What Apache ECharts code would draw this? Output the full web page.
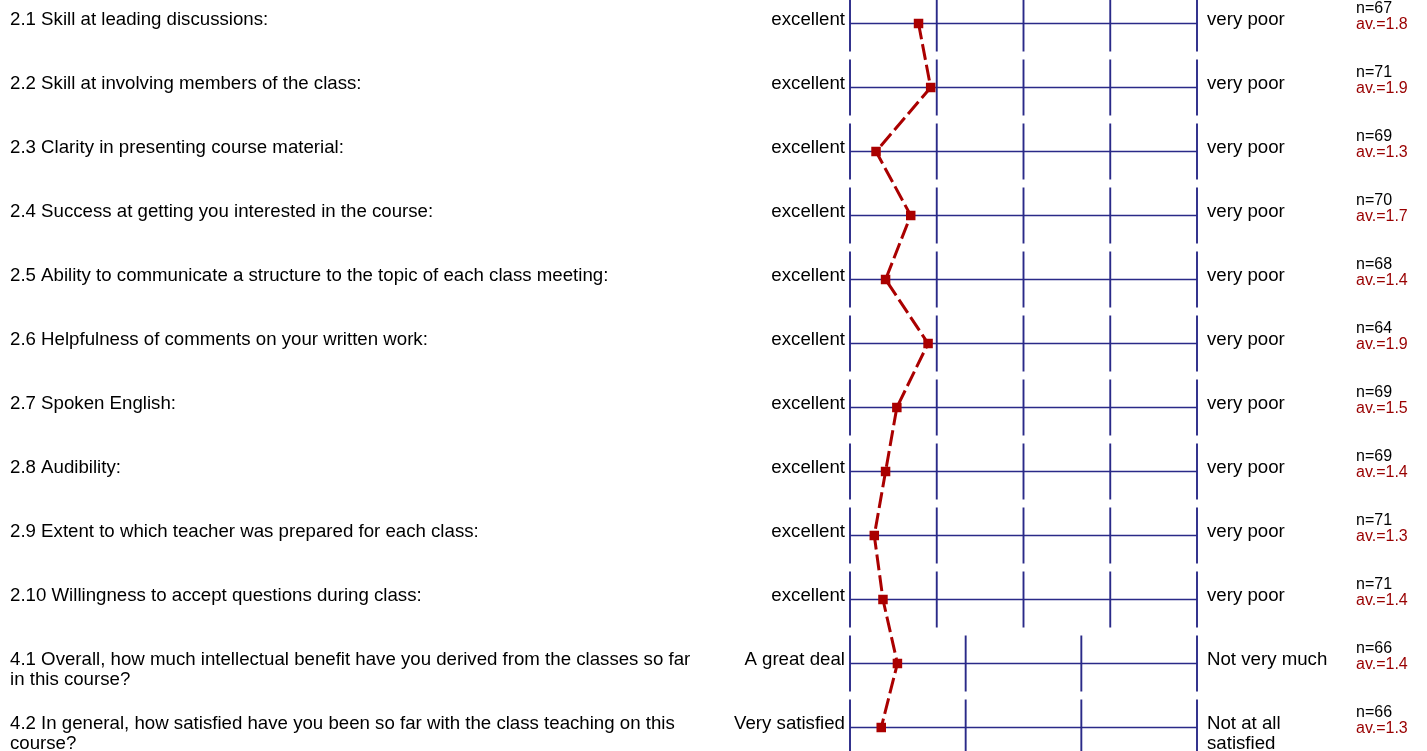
<!DOCTYPE html>
<html>
<head>
<meta charset="utf-8">
<script src="https://cdn.jsdelivr.net/npm/echarts@6/dist/echarts.min.js"></script>
<style>
html,body{margin:0;padding:0;background:#fff;}
#chart{width:1427px;height:751px;}
</style>
</head>
<body>
<div id="chart"></div>
<script>
// ---- data ----
var questions = [
  "2.1 Skill at leading discussions:",
  "2.2 Skill at involving members of the class:",
  "2.3 Clarity in presenting course material:",
  "2.4 Success at getting you interested in the course:",
  "2.5 Ability to communicate a structure to the topic of each class meeting:",
  "2.6 Helpfulness of comments on your written work:",
  "2.7 Spoken English:",
  "2.8 Audibility:",
  "2.9 Extent to which teacher was prepared for each class:",
  "2.10 Willingness to accept questions during class:",
  "4.1 Overall, how much intellectual benefit have you derived from the classes so far\nin this course?",
  "4.2 In general, how satisfied have you been so far with the class teaching on this\ncourse?"
];
var leftAnchors = ["excellent","excellent","excellent","excellent","excellent","excellent","excellent","excellent","excellent","excellent","A great deal","Very satisfied"];
var rightAnchors = ["very poor","very poor","very poor","very poor","very poor","very poor","very poor","very poor","very poor","very poor","Not very much","Not at all\nsatisfied"];
var scalePoints = [5,5,5,5,5,5,5,5,5,5,4,4];
var nValues = [67,71,69,70,68,64,69,69,71,71,66,66];
var avLabels = ["1.8","1.9","1.3","1.7","1.4","1.9","1.5","1.4","1.3","1.4","1.4","1.3"];
var means = [1.79,1.93,1.30,1.70,1.41,1.90,1.54,1.41,1.28,1.38,1.41,1.27];

// ---- chart ----
var FONT = '"Liberation Sans", Arial, Helvetica, sans-serif';
var NAVY = '#2a2a88';
var RED = '#aa0000';
var chart = echarts.init(document.getElementById('chart'), null, {renderer:'canvas'});

var rowData = questions.map(function(q, i){ return [0, i]; });
var lineData = means.map(function(m, i){ return [(m - 1) / (scalePoints[i] - 1), i]; });

function renderRow(params, api) {
  var i = api.value(1);
  var p0 = api.coord([0, i]);
  var p1 = api.coord([1, i]);
  var c = p0[1];
  var children = [];
  children.push({type:'line', shape:{x1:p0[0], y1:c, x2:p1[0], y2:c},
    style:{stroke:NAVY, lineWidth:1.7}});
  var pts = scalePoints[i];
  for (var k = 0; k < pts; k++) {
    var x = api.coord([k / (pts - 1), i])[0];
    children.push({type:'line', shape:{x1:x, y1:c - 28, x2:x, y2:c + 28},
      style:{stroke:NAVY, lineWidth:1.9}});
  }
  var bigTop = c - 13.5;
  var LH = 19.6;
  children.push({type:'text', style:{text:questions[i], x:10, y:bigTop,
    font:'18.67px ' + FONT, fill:'#000', align:'left', verticalAlign:'top', lineHeight:LH}});
  children.push({type:'text', style:{text:leftAnchors[i], x:p0[0] - 5, y:bigTop,
    font:'18.67px ' + FONT, fill:'#000', align:'right', verticalAlign:'top', lineHeight:LH}});
  children.push({type:'text', style:{text:rightAnchors[i], x:p1[0] + 10, y:bigTop,
    font:'18.67px ' + FONT, fill:'#000', align:'left', verticalAlign:'top', lineHeight:LH}});
  children.push({type:'text', style:{text:'n=' + nValues[i], x:p1[0] + 159, y:c - 14.5,
    font:'16px ' + FONT, fill:'#000', align:'left', verticalAlign:'middle'}});
  children.push({type:'text', style:{text:'av.=' + avLabels[i], x:p1[0] + 159, y:c + 1,
    font:'16px ' + FONT, fill:'#990000', align:'left', verticalAlign:'middle'}});
  return {type:'group', children:children};
}

var yMin = -23.5 / 64;
var yMax = yMin + 751 / 64;

chart.setOption({
  animation: false,
  backgroundColor: '#ffffff',
  grid: {left: 850, right: 230, top: 0, bottom: 0, containLabel: false},
  xAxis: {type:'value', min:0, max:1, show:false},
  yAxis: {type:'value', min:yMin, max:yMax, inverse:true, show:false},
  series: [
    {type:'custom', renderItem: renderRow, data: rowData, clip:false, z:1, silent:true},
    {type:'line', data: lineData, z:5, clip:false,
      symbol:'rect', symbolSize:9.5,
      itemStyle:{color:RED},
      lineStyle:{color:RED, width:3, type:[16,5]}}
  ]
});
</script>
</body>
</html>
